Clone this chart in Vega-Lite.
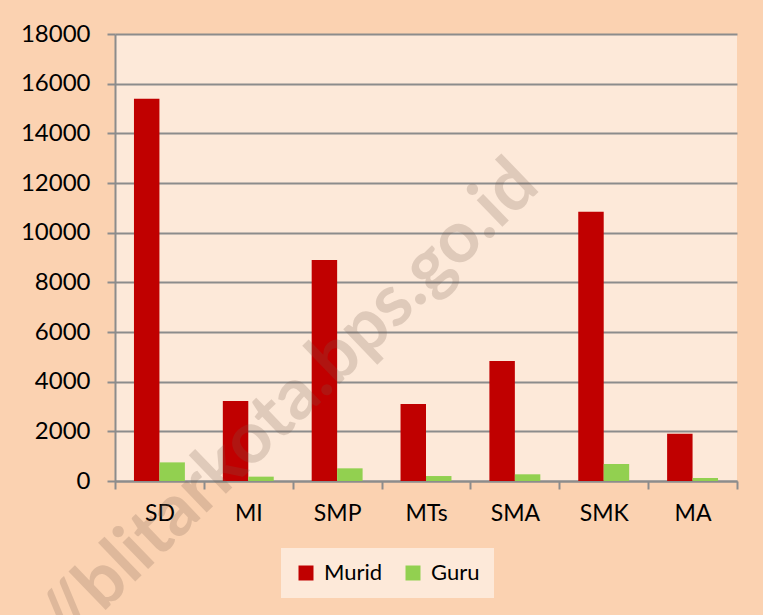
{
  "$schema": "https://vega.github.io/schema/vega-lite/v6.json",
  "width": 622,
  "height": 447,
  "autosize": {"type": "none"},
  "padding": {"left": 115, "top": 34, "right": 26, "bottom": 134},
  "background": "#FBD2B1",
  "config": {
    "view": {"fill": "#FDE9D9", "stroke": null},
    "font": "Lato"
  },
  "layer": [
    {
      "data": {
        "values": [
          {"jenjang": "SD", "seri": "Murid", "jumlah": 15390},
          {"jenjang": "SD", "seri": "Guru", "jumlah": 750},
          {"jenjang": "MI", "seri": "Murid", "jumlah": 3220},
          {"jenjang": "MI", "seri": "Guru", "jumlah": 175},
          {"jenjang": "SMP", "seri": "Murid", "jumlah": 8900},
          {"jenjang": "SMP", "seri": "Guru", "jumlah": 510},
          {"jenjang": "MTs", "seri": "Murid", "jumlah": 3100},
          {"jenjang": "MTs", "seri": "Guru", "jumlah": 200},
          {"jenjang": "SMA", "seri": "Murid", "jumlah": 4830},
          {"jenjang": "SMA", "seri": "Guru", "jumlah": 270},
          {"jenjang": "SMK", "seri": "Murid", "jumlah": 10840},
          {"jenjang": "SMK", "seri": "Guru", "jumlah": 685},
          {"jenjang": "MA", "seri": "Murid", "jumlah": 1905},
          {"jenjang": "MA", "seri": "Guru", "jumlah": 120}
        ]
      },
      "mark": {"type": "bar"},
      "encoding": {
        "x": {
          "field": "jenjang",
          "type": "nominal",
          "scale": {"domain": ["SD", "MI", "SMP", "MTs", "SMA", "SMK", "MA"], "paddingInner": 0, "paddingOuter": 0},
          "axis": {
            "title": null,
            "labelAngle": 0,
            "labelFont": "Lato",
            "labelFontSize": 23,
            "labelColor": "#000000",
            "labelPadding": 13,
            "tickBand": "extent",
            "tickSize": 8,
            "tickColor": "#8C8C8C",
            "tickWidth": 2,
            "domainColor": "#8C8C8C",
            "domainWidth": 2,
            "grid": false
          }
        },
        "xOffset": {
          "field": "seri",
          "type": "nominal",
          "scale": {"domain": ["Murid", "Guru"], "paddingInner": 0, "paddingOuter": 0.745}
        },
        "y": {
          "field": "jumlah",
          "type": "quantitative",
          "scale": {"domain": [0, 18000], "nice": false},
          "axis": {
            "title": null,
            "values": [0, 2000, 4000, 6000, 8000, 10000, 12000, 14000, 16000, 18000],
            "format": "d",
            "labelFont": "Lato",
            "labelFontSize": 24,
            "labelColor": "#000000",
            "labelPadding": 17,
            "tickSize": 8,
            "tickColor": "#8C8C8C",
            "tickWidth": 2,
            "domainColor": "#8C8C8C",
            "domainWidth": 2,
            "gridColor": "#8C8C8C",
            "gridWidth": 2
          }
        },
        "color": {
          "field": "seri",
          "type": "nominal",
          "scale": {"domain": ["Murid", "Guru"], "range": ["#C00000", "#92D050"]},
          "legend": {
            "title": null,
            "orient": "none",
            "legendX": 166,
            "legendY": 514,
            "direction": "horizontal",
            "fillColor": "#FDE9D9",
            "padding": 14,
            "symbolType": "square",
            "symbolSize": 225,
            "symbolStrokeWidth": 0,
            "symbolOpacity": 1,
            "labelFont": "Lato",
            "labelFontSize": 22,
            "labelColor": "#000000",
            "labelOffset": 7,
            "columnPadding": 19
          }
        }
      }
    },
    {
      "data": {"values": [{"jenjang": "SMA", "nilai": 11950, "teks": "http://blitarkota.bps.go.id"}]},
      "mark": {
        "type": "text",
        "angle": -44,
        "align": "right",
        "baseline": "middle",
        "dx": 16,
        "font": "Lato",
        "fontWeight": "bold",
        "fontSize": 72,
        "fill": "#7A6050",
        "opacity": 0.22,
        "clip": false
      },
      "encoding": {
        "x": {"field": "jenjang", "type": "nominal"},
        "y": {"field": "nilai", "type": "quantitative"},
        "text": {"field": "teks"}
      }
    }
  ]
}
